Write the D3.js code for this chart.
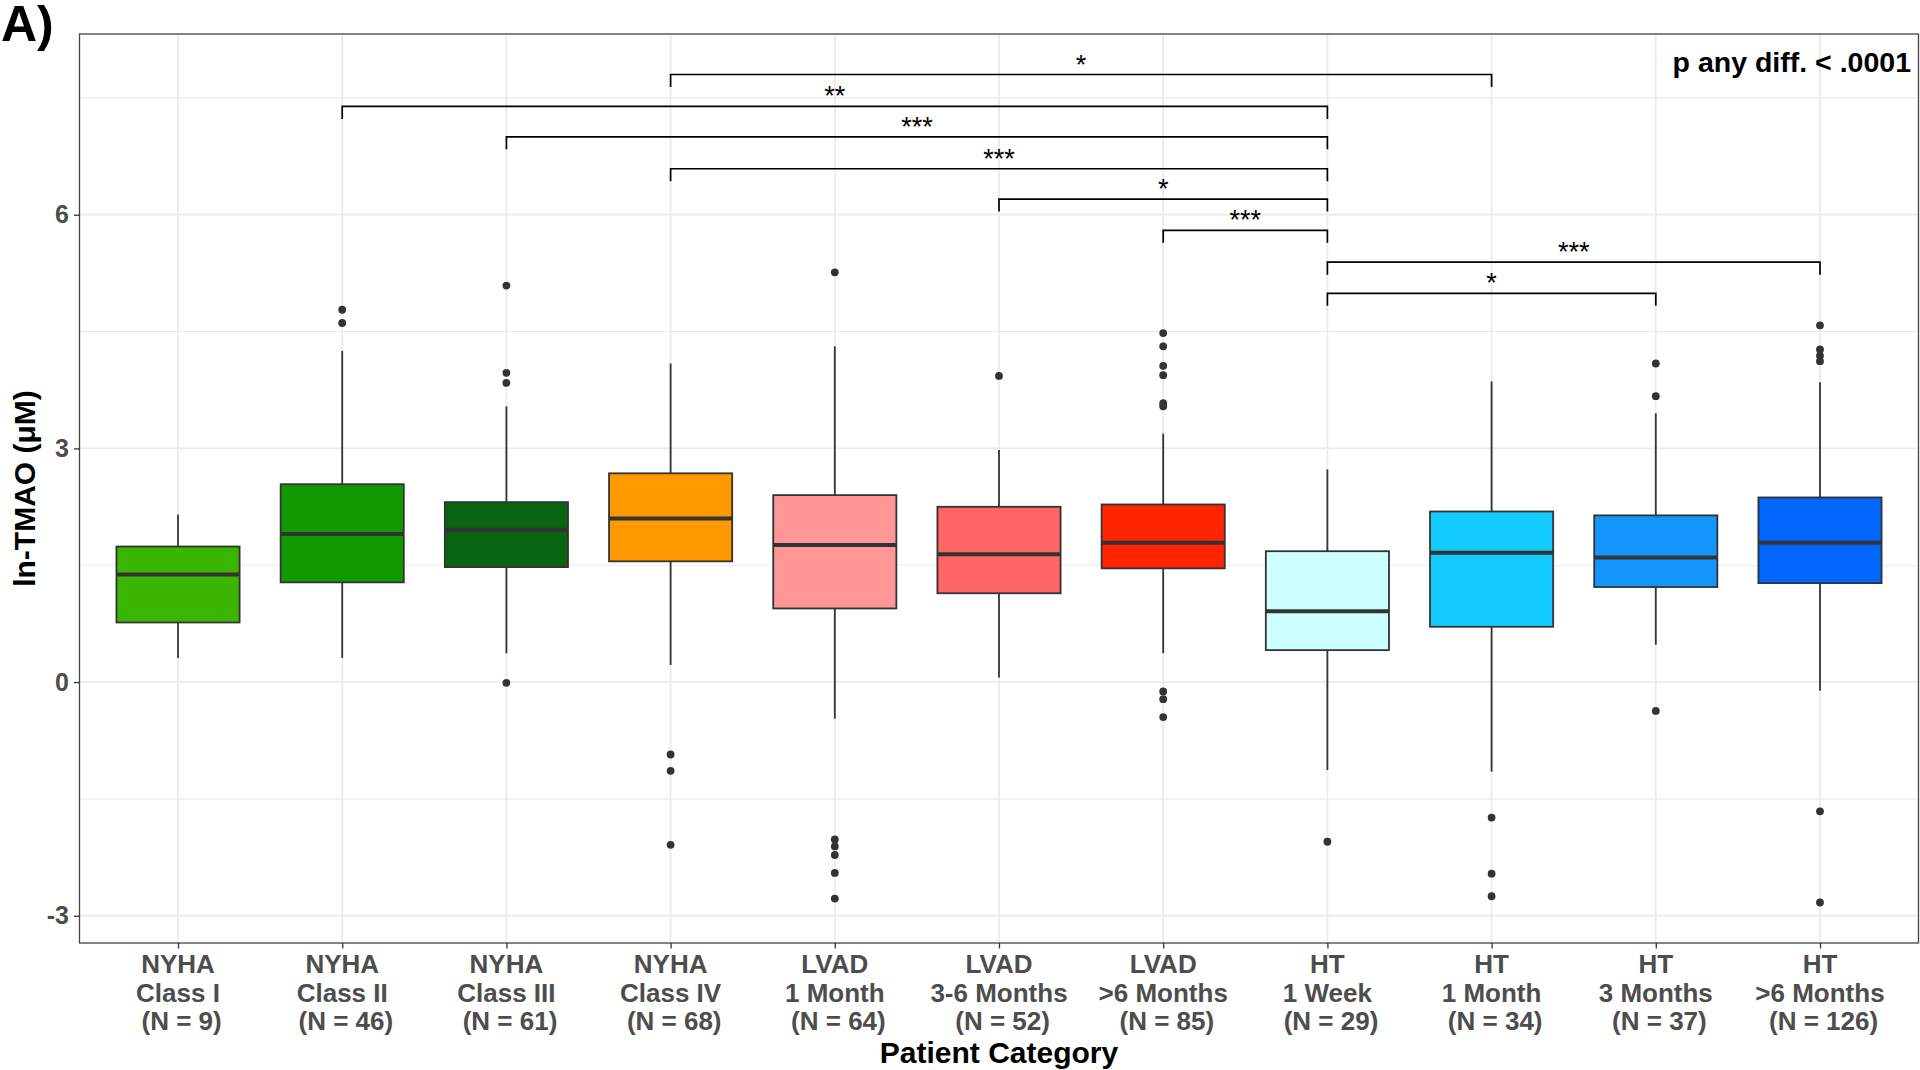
<!DOCTYPE html>
<html><head><meta charset="utf-8">
<script src="https://cdn.jsdelivr.net/npm/d3@7"></script>
<style>
body{margin:0;background:#fff}
svg{display:block}
text{font-family:"Liberation Sans",Arial,Helvetica,sans-serif}
</style>
</head><body>
<svg id="chart" width="1920" height="1070"></svg>
<script>
// ---------- data ----------
const categories = ["NYHA Class I","NYHA Class II","NYHA Class III","NYHA Class IV","LVAD 1 Month","LVAD 3-6 Months","LVAD >6 Months","HT 1 Week","HT 1 Month","HT 3 Months","HT >6 Months"];
const tickLine1 = ["NYHA","NYHA","NYHA","NYHA","LVAD","LVAD","LVAD","HT","HT","HT","HT"];
const tickLine2 = ["Class I","Class II","Class III","Class IV","1 Month","3-6 Months",">6 Months","1 Week","1 Month","3 Months",">6 Months"];
const tickLine3 = [" (N = 9)"," (N = 46)"," (N = 61)"," (N = 68)"," (N = 64)"," (N = 52)"," (N = 85)"," (N = 29)"," (N = 34)"," (N = 37)"," (N = 126)"];

const lowerWhisker = [0.31, 0.31, 0.37, 0.22, -0.47, 0.06, 0.37, -1.13, -1.15, 0.48, -0.11];
const q1           = [0.765, 1.28, 1.476, 1.55, 0.945, 1.14, 1.46, 0.41, 0.71, 1.22, 1.27];
const medians      = [1.38, 1.90, 1.955, 2.10, 1.76, 1.64, 1.79, 0.91, 1.66, 1.60, 1.79];
const q3           = [1.74, 2.54, 2.31, 2.68, 2.40, 2.25, 2.28, 1.68, 2.19, 2.14, 2.37];
const upperWhisker = [2.15, 4.25, 3.54, 4.09, 4.31, 2.98, 3.19, 2.73, 3.86, 3.45, 3.85];
const outliers = [
  [],
  [4.78, 4.61],
  [5.09, 3.97, 3.84, -0.01],
  [-0.93, -1.14, -2.09],
  [5.26, -2.02, -2.11, -2.22, -2.45, -2.78],
  [3.93],
  [4.48, 4.31, 4.06, 3.94, 3.58, 3.54, -0.12, -0.22, -0.45],
  [-2.05],
  [-1.74, -2.46, -2.75],
  [4.09, 3.67, -0.37],
  [4.58, 4.27, 4.19, 4.12, -1.66, -2.83]
];
const fillColors = ["#3bb600","#109a00","#0a6512","#fe9900","#ff9696","#fe6565","#fe2500","#ccffff","#14cbff","#1296fe","#0066ff"];

const bracketFrom  = [3, 1, 2, 3, 5, 6, 7, 7];
const bracketTo    = [8, 7, 7, 7, 7, 7, 10, 9];
const bracketY     = [7.80, 7.39, 7.00, 6.59, 6.20, 5.80, 5.39, 4.99];
const bracketLabel = ["*", "**", "***", "***", "*", "***", "***", "*"];

const yTicks = [-3, 0, 3, 6];
const yTickLabels = ["-3", "0", "3", "6"];
const yMinorTicks = [-1.5, 1.5, 4.5, 7.5];
const yDomain = [-3.35, 8.32];

// ---------- layout ----------
const W = 1920, H = 1070;
const panel = {left: 79.5, right: 1918.5, top: 34, bottom: 943};
const svg = d3.select("#chart");
svg.append("rect").attr("width", W).attr("height", H).attr("fill", "#fff");

const x = d3.scalePoint().domain(categories).range([panel.left, panel.right]).padding(0.6);
const y = d3.scaleLinear().domain(yDomain).range([panel.bottom, panel.top]);
const boxW = x.step() * 0.75;
const tickDrop = 0.16;

// grid
const grid = svg.append("g");
grid.selectAll("line.minor").data(yMinorTicks).join("line")
  .attr("x1", panel.left).attr("x2", panel.right)
  .attr("y1", d => y(d)).attr("y2", d => y(d))
  .attr("stroke", "#ebebeb").attr("stroke-width", 1.1);
grid.selectAll("line.majorY").data(yTicks).join("line")
  .attr("x1", panel.left).attr("x2", panel.right)
  .attr("y1", d => y(d)).attr("y2", d => y(d))
  .attr("stroke", "#ebebeb").attr("stroke-width", 1.8);
svg.append("g").selectAll("line").data(categories).join("line")
  .attr("x1", d => x(d)).attr("x2", d => x(d))
  .attr("y1", panel.top).attr("y2", panel.bottom)
  .attr("stroke", "#ebebeb").attr("stroke-width", 1.8);

// boxes
const boxes = svg.append("g");
categories.forEach((c, i) => {
  const cx = x(c);
  const g = boxes.append("g");
  g.append("line").attr("x1", cx).attr("x2", cx)
    .attr("y1", y(upperWhisker[i])).attr("y2", y(q3[i]))
    .attr("stroke", "#333").attr("stroke-width", 1.8);
  g.append("line").attr("x1", cx).attr("x2", cx)
    .attr("y1", y(q1[i])).attr("y2", y(lowerWhisker[i]))
    .attr("stroke", "#333").attr("stroke-width", 1.8);
  g.append("rect").attr("x", cx - boxW / 2).attr("width", boxW)
    .attr("y", y(q3[i])).attr("height", y(q1[i]) - y(q3[i]))
    .attr("fill", fillColors[i]).attr("stroke", "#333").attr("stroke-width", 1.8);
  g.append("line").attr("x1", cx - boxW / 2).attr("x2", cx + boxW / 2)
    .attr("y1", y(medians[i])).attr("y2", y(medians[i]))
    .attr("stroke", "#333").attr("stroke-width", 4);
  g.selectAll("circle").data(outliers[i]).join("circle")
    .attr("cx", cx).attr("cy", d => y(d)).attr("r", 3.9).attr("fill", "#333");
});

// brackets
const br = svg.append("g");
bracketY.forEach((v, i) => {
  const x1 = x(categories[bracketFrom[i]]), x2 = x(categories[bracketTo[i]]);
  const path = d3.path();
  path.moveTo(x1, y(v - tickDrop));
  path.lineTo(x1, y(v));
  path.lineTo(x2, y(v));
  path.lineTo(x2, y(v - tickDrop));
  br.append("path").attr("d", path.toString()).attr("fill", "none")
    .attr("stroke", "#000").attr("stroke-width", 1.7);
  br.append("text").attr("x", (x1 + x2) / 2).attr("y", y(v) - 1)
    .attr("text-anchor", "middle").attr("font-size", 27).attr("fill", "#000")
    .text(bracketLabel[i]);
});

// panel border
svg.append("rect").attr("x", panel.left).attr("y", panel.top)
  .attr("width", panel.right - panel.left).attr("height", panel.bottom - panel.top)
  .attr("fill", "none").attr("stroke", "#444").attr("stroke-width", 1.3);

// y axis
const yAxis = svg.append("g").attr("transform", `translate(${panel.left},0)`)
  .call(d3.axisLeft(y).tickValues(yTicks).tickSize(5.5).tickPadding(5)
    .tickFormat((d, i) => yTickLabels[i]));
yAxis.select(".domain").remove();
yAxis.selectAll(".tick line").attr("stroke", "#333").attr("stroke-width", 1.3);
yAxis.selectAll(".tick text").attr("fill", "#4d4d4d").attr("font-size", 25)
  .attr("font-weight", "bold").attr("font-family", "'Liberation Sans', Arial, sans-serif");

// x axis
const xAxis = svg.append("g").attr("transform", `translate(0,${panel.bottom})`)
  .call(d3.axisBottom(x).tickSize(5.5).tickFormat(""));
xAxis.select(".domain").remove();
xAxis.selectAll(".tick line").attr("stroke", "#333").attr("stroke-width", 1.3);
const lbl = svg.append("g");
categories.forEach((c, i) => {
  const t = lbl.append("text").attr("x", x(c)).attr("text-anchor", "middle")
    .attr("font-size", 26).attr("font-weight", "bold").attr("fill", "#4d4d4d")
    .style("white-space", "pre");
  [tickLine1[i], tickLine2[i], tickLine3[i]].forEach((s, k) => {
    t.append("tspan").attr("x", x(c)).attr("y", 973 + k * 28.5).text(s);
  });
});

// titles
svg.append("text").attr("x", (panel.left + panel.right) / 2).attr("y", 1063)
  .attr("text-anchor", "middle").attr("font-size", 30).attr("font-weight", "bold")
  .attr("fill", "#000").text("Patient Category");
svg.append("text").attr("transform", `translate(35,${(panel.top + panel.bottom) / 2}) rotate(-90)`)
  .attr("text-anchor", "middle").attr("font-size", 30).attr("font-weight", "bold")
  .attr("fill", "#000").text("ln-TMAO (μM)");
svg.append("text").attr("x", 1911).attr("y", 72).attr("text-anchor", "end")
  .attr("font-size", 28.5).attr("font-weight", "bold").attr("fill", "#000")
  .text("p any diff. < .0001");
svg.append("text").attr("x", 1).attr("y", 41).attr("font-size", 50)
  .attr("font-weight", "bold").attr("fill", "#000").text("A)");
</script>
</body></html>
